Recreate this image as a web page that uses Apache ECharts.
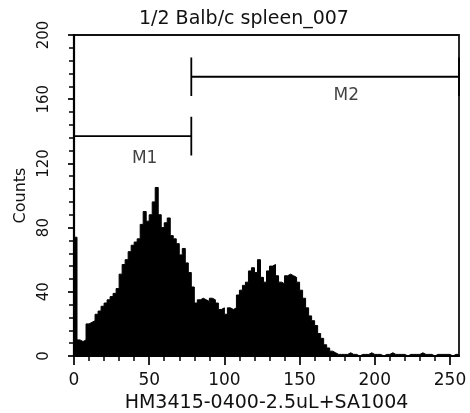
<!DOCTYPE html>
<html><head><meta charset="utf-8">
<script src="https://cdn.jsdelivr.net/npm/echarts@6/dist/echarts.min.js"></script>
<style>html,body{margin:0;padding:0;background:#fff}#c{width:470px;height:413px}</style>
</head><body><div id="c"></div>
<script>
const titleText = '1/2 Balb/c spleen_007';
const xName = 'HM3415-0400-2.5uL+SA1004';
const yName = 'Counts';

const channels = [0,2,4,6,8,10,12,14,16,18,20,22,24,26,28,30,32,34,36,38,40,42,44,46,48,50,52,54,56,58,60,62,64,66,68,70,72,74,76,78,80,82,84,86,88,90,92,94,96,98,100,102,104,106,108,110,112,114,116,118,120,122,124,126,128,130,132,134,136,138,140,142,144,146,148,150,152,154,156,158,160,162,164,166,168,170,172,174,176,178,180,182,184,186,188,190,192,194,196,198,200,202,204,206,208,210,212,214,216,218,220,222,224,226,228,230,232,234,236,238,240,242,244,246,248,250,252,254,256];
const counts = [74,10,9,10,20,21,22,26,28,31,33,35,37,39,42,51,57,60,65,69,71,73,82,90,84,88,96,105,88,80,83,86,75,73,70,63,67,58,52,43,33,35,36,35,34,36,35,33,29,30,26,30,29,30,38,41,44,46,53,55,52,60,49,46,53,56,57,50,46,45,50,51,50,49,46,41,36,30,25,22,19,14,11,7,5,3,2,1,1,1,1,2,1,1,0,1,1,1,2,1,1,1,0,1,1,2,1,1,1,1,0,1,1,1,1,2,1,1,1,0,1,1,1,1,1,0,1,1,1];

const xTickValues = [0,50,100,150,200,250];
const xMinorTickValues = [10,20,30,40,60,70,80,90,110,120,130,140,160,170,180,190,210,220,230,240];

const gateNames = ['M1','M2'];
const gateStart = [0,78];
const gateEnd = [78,256];
const gateLevel = [137,174];
const gateLabelX = [47,181];
const gateLabelY = [123,162];

const CAP = 12;
const FONT = 'DejaVu Sans';

const chart = echarts.init(document.getElementById('c'));

const gateSeries = gateNames.map((n,i)=>({
  type:'line', name:n, silent:true, symbol:'none', animation:false,
  lineStyle:{color:'#000', width:1.8},
  data:[[gateStart[i],gateLevel[i]-CAP],[gateStart[i],gateLevel[i]+CAP],[gateStart[i],gateLevel[i]],
        [gateEnd[i],gateLevel[i]],[gateEnd[i],gateLevel[i]+CAP],[gateEnd[i],gateLevel[i]-CAP]],
  z:5
}));

chart.setOption({
  animation:false,
  backgroundColor:'#fff',
  title:{text:titleText, left:139, top:10, padding:0,
    textStyle:{fontFamily:FONT, fontSize:19, fontWeight:'normal', color:'#111'}},
  grid:{left:74, right:11, top:35, bottom:57, outerBoundsMode:'none', containLabel:false,
    show:true, borderColor:'#111', borderWidth:1.8},
  xAxis:[{
    type:'value', min:0, max:256, position:'bottom',
    name:xName, nameLocation:'middle', nameGap:38,
    nameTextStyle:{fontFamily:FONT, fontSize:19, color:'#111'},
    axisLine:{show:true, lineStyle:{color:'#000', width:2}},
    axisTick:{show:true, length:9, customValues:xTickValues, lineStyle:{color:'#000', width:1.7}},
    axisLabel:{customValues:xTickValues, margin:16, fontFamily:FONT, fontSize:17, color:'#111'},
    splitLine:{show:false}
  },{
    type:'value', min:0, max:256, position:'bottom', offset:0,
    axisLine:{show:false},
    axisTick:{show:true, length:5, customValues:xMinorTickValues, lineStyle:{color:'#000', width:1.5}},
    axisLabel:{show:false},
    splitLine:{show:false}
  }],
  yAxis:{
    type:'value', min:0, max:200, interval:40,
    name:yName, nameLocation:'middle', nameGap:44,
    nameTextStyle:{fontFamily:FONT, fontSize:16, color:'#111'},
    axisLine:{show:true, lineStyle:{color:'#000', width:2.2}},
    axisTick:{show:true, length:6, lineStyle:{color:'#000', width:1.7}},
    minorTick:{show:true, splitNumber:5, length:5, lineStyle:{color:'#000', width:1.5}},
    axisLabel:{rotate:90, margin:22, fontFamily:FONT, fontSize:15, color:'#111'},
    splitLine:{show:false}
  },
  series:[{
    type:'line', name:'Counts', step:'end', symbol:'none', silent:true,
    data:channels.map((c,i)=>[c,counts[i]]),
    lineStyle:{color:'#000', width:1},
    areaStyle:{color:'#000', opacity:1},
    z:3
  }].concat(gateSeries).concat([{
    type:'scatter', symbolSize:0, silent:true,
    data:gateNames.map((n,i)=>({value:[gateLabelX[i],gateLabelY[i]], name:n})),
    label:{show:true, position:'inside', formatter:p=>p.name, fontFamily:FONT, fontSize:17, color:'#111'},
    z:6
  }])
});
</script></body></html>
